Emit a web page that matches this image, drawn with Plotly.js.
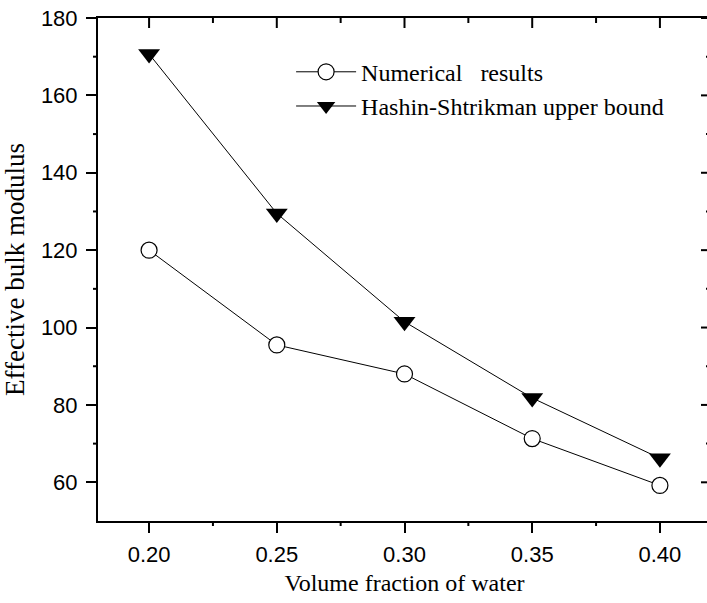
<!DOCTYPE html>
<html>
<head>
<meta charset="utf-8">
<script src="https://cdn.plot.ly/plotly-3.0.1.min.js"></script>
<style>
html,body{margin:0;padding:0;overflow:hidden;background:#fff;}
#chart{width:720px;height:603px;}
</style>
</head>
<body>
<div id="chart"></div>
<script>
var volumeFraction = [0.20, 0.25, 0.30, 0.35, 0.40];
var numericalResults = [120.0, 95.5, 88.0, 71.3, 59.2];
var hashinShtrikmanUpper = [170.7, 129.5, 101.5, 81.8, 66.2];
var xMajorTicks = [0.20, 0.25, 0.30, 0.35, 0.40];
var xTickLabels = ['0.20', '0.25', '0.30', '0.35', '0.40'];
var xMinorTicks = [0.225, 0.275, 0.325, 0.375];
var yMajorTicks = [60, 80, 100, 120, 140, 160, 180];
var yMinorTicks = [70, 90, 110, 130, 150, 170];

var serif = 'Liberation Serif, Times New Roman, serif';
var sans = 'Liberation Sans, Arial, sans-serif';

var traces = [
  { x: volumeFraction, y: numericalResults, name: 'Numerical   results', type: 'scatter', mode: 'lines+markers',
    line: {color: '#000', width: 1}, marker: {symbol: 'circle', size: 16, color: '#fff', line: {color: '#000', width: 1.2}} },
  { x: volumeFraction, y: hashinShtrikmanUpper, name: 'Hashin-Shtrikman upper bound', type: 'scatter', mode: 'lines+markers',
    line: {color: '#000', width: 1}, marker: {symbol: 'triangle-down', size: 19, color: '#000', line: {color: '#000', width: 0}} }
];

var tickLine = {color: '#000', width: 2};
var shapes = [];
function xTick(v, len, atTop) {
  // atTop: inside tick pointing down from top frame; else outside tick pointing down from bottom axis
  shapes.push({ type: 'line', xref: 'x', yref: 'paper', ysizemode: 'pixel', yanchor: atTop ? 1 : 0,
    x0: v, x1: v, y0: atTop ? 0 : 0, y1: -len, line: tickLine, layer: 'above' });
}
function yTick(v, len, atRight) {
  shapes.push({ type: 'line', xref: 'paper', yref: 'y', xsizemode: 'pixel', xanchor: atRight ? 1 : 0,
    x0: 0, x1: -len, y0: v, y1: v, line: tickLine, layer: 'above' });
}
xMajorTicks.forEach(function (v) { xTick(v, 10, true); });
xMinorTicks.forEach(function (v) { xTick(v, 5, true); xTick(v, 5, false); });
yMajorTicks.forEach(function (v) { yTick(v, 10, true); });
yMinorTicks.forEach(function (v) { yTick(v, 5, true); yTick(v, 5, false); });

var layout = {
  width: 720, height: 603, margin: {l: 98, r: 9, t: 18, b: 82},
  showlegend: true,
  legend: { x: 0.315, y: 0.937, xanchor: 'left', yanchor: 'top', bgcolor: 'rgba(0,0,0,0)', borderwidth: 0,
    font: {family: serif, size: 24, color: '#000'}, itemwidth: 60, tracegroupgap: 0 },
  xaxis: { range: [0.18, 0.42], tickmode: 'array', tickvals: xMajorTicks, ticktext: xTickLabels,
    ticks: 'outside', ticklen: 10, tickwidth: 2, tickcolor: '#000',
    showline: true, mirror: true, linecolor: '#000', linewidth: 2, showgrid: false, zeroline: false,
    tickfont: {family: sans, size: 22, color: '#000'}, ticklabelstandoff: 3,
    title: {text: 'Volume fraction of water', font: {family: serif, size: 24, color: '#000'}, standoff: 8} },
  yaxis: { range: [50, 180], tickmode: 'array', tickvals: yMajorTicks,
    ticks: 'outside', ticklen: 10, tickwidth: 2, tickcolor: '#000',
    showline: true, mirror: true, linecolor: '#000', linewidth: 2, showgrid: false, zeroline: false,
    tickfont: {family: sans, size: 22, color: '#000'}, ticklabelstandoff: 4,
    title: {text: 'Effective bulk modulus', font: {family: serif, size: 27, color: '#000'}, standoff: 10} },
  shapes: shapes
};

Plotly.newPlot('chart', traces, layout, {displayModeBar: false});
</script>
</body>
</html>
